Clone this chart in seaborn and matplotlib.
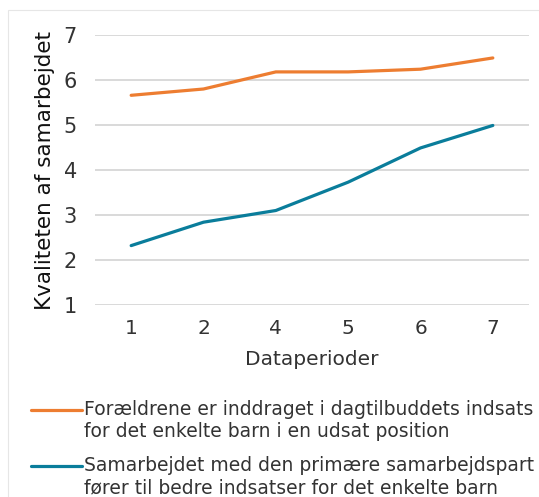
import pandas as pd
import matplotlib.pyplot as plt
import matplotlib.patches as mpatches
from matplotlib.legend_handler import HandlerLine2D
import seaborn as sns

periods = ["1", "2", "4", "5", "6", "7"]
foraeldre = [5.66, 5.80, 6.18, 6.18, 6.24, 6.49]
samarbejde = [2.32, 2.84, 3.10, 3.73, 4.49, 4.99]

label_orange = "Forældrene er inddraget i dagtilbuddets indsats\nfor det enkelte barn i en udsat position"
label_teal = "Samarbejdet med den primære samarbejdspart\nfører til bedre indsatser for det enkelte barn"

df = pd.DataFrame({
    "periode": periods * 2,
    "vaerdi": foraeldre + samarbejde,
    "serie": [label_orange] * len(periods) + [label_teal] * len(periods),
})


# legend line sits on the first text line, like in Excel
class FirstLineHandler(HandlerLine2D):
    def create_artists(self, legend, orig_handle, xdescent, ydescent, width, height, fontsize, trans):
        return super().create_artists(legend, orig_handle, xdescent, ydescent - 16,
                                      width, height, fontsize, trans)


sns.set_style("white")
plt.rcParams["font.family"] = ["DejaVu Sans"]

fig = plt.figure(figsize=(5.39, 4.97), dpi=100)
ax = fig.add_axes([95 / 539, 1 - 305 / 497, 434 / 539, 270 / 497])

sns.lineplot(data=df, x="periode", y="vaerdi", hue="serie", sort=False,
             palette=["#ED7D31", "#0A7D9B"], linewidth=2.3, ax=ax, legend=True)

ax.set_ylim(1, 7)
ax.set_xlim(-0.5, 5.5)
ax.set_yticks(range(1, 8))
ax.yaxis.grid(True, color="#D9D9D9", linewidth=1.4)
ax.set_axisbelow(True)
for s in ax.spines.values():
    s.set_visible(False)
ax.tick_params(axis="y", length=0, pad=13, labelsize=15, labelcolor="#333333")
ax.tick_params(axis="x", length=0, pad=10, labelsize=14.5, labelcolor="#333333")
ax.set_xlabel("Dataperioder", fontsize=14.5, color="#333333", labelpad=9)
ax.set_ylabel("Kvaliteten af samarbejdet", fontsize=15.5, color="#111111", labelpad=6)

handles, labels = ax.get_legend_handles_labels()
ax.legend_.remove()
fig.legend(handles, labels, loc="upper left", bbox_to_anchor=(31 / 539, 1 - 400 / 497),
           frameon=False, fontsize=13.5, handlelength=2.7, handletextpad=0.15,
           borderpad=0, borderaxespad=0, labelspacing=0.8, labelcolor="#333333",
           handler_map={h: FirstLineHandler() for h in handles})

fig.patches.append(mpatches.Rectangle((8 / 539, -0.05), 1.1, 1 - 10 / 497 + 0.05,
                                      transform=fig.transFigure, fill=False,
                                      edgecolor="#E6E6E6", linewidth=0.8))

fig.savefig("out.png", dpi=100)
